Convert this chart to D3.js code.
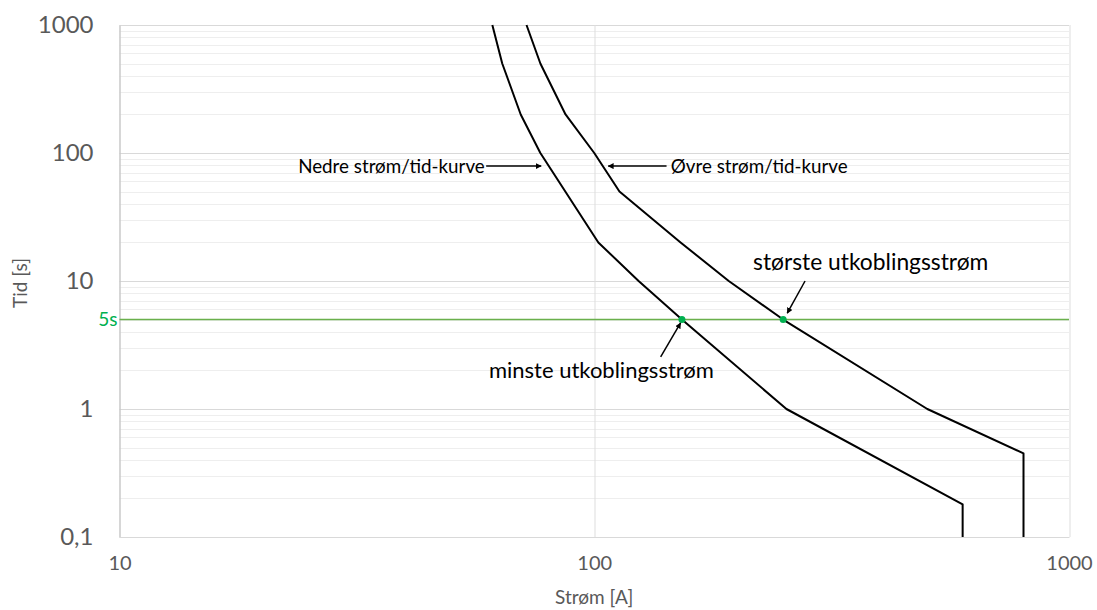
<!DOCTYPE html>
<head>
<meta charset="UTF-8">
<title>Strøm/tid-kurver</title>
<script src="https://d3js.org/d3.v7.min.js"></script>
<style>
  body { margin: 0; background: #fff; }
  .chart { font-family: Lato, "Open Sans", sans-serif; }
  .tick text { fill: #595959; }
  .note { fill: #000; }
</style>
</head>
<body>
<svg class="chart" width="1097" height="610"></svg>
<script>
// ---- data -------------------------------------------------------------
var lowerCurrent = [61, 64, 70, 77, 102, 124, 153, 254, 597, 597];
var lowerTime    = [1000, 500, 200, 100, 20, 10, 5, 1, 0.18, 0.1];

var upperCurrent = [72, 77, 87, 100, 113, 152, 192, 250, 503, 802, 802];
var upperTime    = [1000, 500, 200, 100, 50, 20, 10, 5, 1, 0.45, 0.1];

var xTicks = [10, 100, 1000];
var yTicks = [0.1, 1, 10, 100, 1000];
var yTickLabels = ["0,1", "1", "10", "100", "1000"];

var limitTime = 5;
var tripCurrents = [153, 250];   // minste / største utkoblingsstrøm

// ---- layout -----------------------------------------------------------
var chart = d3.select(".chart"),
    margin = {top: 25, right: 28, bottom: 73, left: 119.5},
    width = +chart.attr("width") - margin.left - margin.right,
    height = +chart.attr("height") - margin.top - margin.bottom;
var g = chart.append("g").attr("transform", "translate(" + margin.left + "," + margin.top + ")");

var x = d3.scaleLog().domain([10, 1000]).range([0, width]);
var y = d3.scaleLog().domain([0.1, 1000]).range([height, 0]);

// minor horizontal grid (2..9 of every decade)
var minor = [];
[0.1, 1, 10, 100].forEach(function (d) {
  for (var k = 2; k <= 9; k++) minor.push(d * k);
});

g.append("g").selectAll("line")
  .data(minor)
  .enter().append("line")
    .attr("x1", 0).attr("x2", width)
    .attr("y1", function (d) { return Math.round(y(d)) + 0.5; })
    .attr("y2", function (d) { return Math.round(y(d)) + 0.5; })
    .attr("stroke", "#eeeeee");

// major grid
g.append("g").selectAll("line")
  .data(yTicks)
  .enter().append("line")
    .attr("x1", 0).attr("x2", width)
    .attr("y1", function (d) { return Math.round(y(d)) + 0.5; })
    .attr("y2", function (d) { return Math.round(y(d)) + 0.5; })
    .attr("stroke", "#d9d9d9");

g.append("g").selectAll("line")
  .data(xTicks)
  .enter().append("line")
    .attr("y1", 0).attr("y2", height)
    .attr("x1", function (d) { return Math.round(x(d)) + 0.5; })
    .attr("x2", function (d) { return Math.round(x(d)) + 0.5; })
    .attr("stroke", "#dddddd");

// axes
var yAxis = g.append("g")
  .call(d3.axisLeft(y).tickValues(yTicks).tickSize(0).tickPadding(26)
    .tickFormat(function (d, i) { return yTickLabels[i]; }));
yAxis.select(".domain").attr("stroke", "#bfbfbf");
yAxis.selectAll("text").attr("font-size", 24).attr("font-family", "Lato, sans-serif");

var xAxis = g.append("g")
  .attr("transform", "translate(0," + height + ")")
  .call(d3.axisBottom(x).tickValues(xTicks).tickSize(0).tickPadding(19)
    .tickFormat(d3.format("d")));
xAxis.select(".domain").attr("stroke", "#d9d9d9");
xAxis.selectAll("text").attr("font-size", 20).attr("font-family", "Lato, sans-serif");

chart.append("text")
  .attr("transform", "translate(27," + (margin.top + y(10) + 2) + ") rotate(-90)")
  .attr("text-anchor", "middle")
  .attr("font-size", 19)
  .attr("fill", "#595959")
  .text("Tid [s]");

chart.append("text")
  .attr("x", margin.left + x(100))
  .attr("y", 604)
  .attr("text-anchor", "middle")
  .attr("font-size", 19)
  .attr("fill", "#595959")
  .text("Strøm [A]");

// 5 s line
g.append("line")
  .attr("x1", 0).attr("x2", width)
  .attr("y1", y(limitTime)).attr("y2", y(limitTime))
  .attr("stroke", "#6ab04c")
  .attr("stroke-width", 1.6);

chart.append("text")
  .attr("x", margin.left - 2)
  .attr("y", margin.top + y(limitTime))
  .attr("dy", "0.35em")
  .attr("text-anchor", "end")
  .attr("font-size", 19)
  .attr("fill", "#00b050")
  .text("5s");

// curves
var line = d3.line()
  .x(function (d) { return x(d[0]); })
  .y(function (d) { return y(d[1]); });

[[lowerCurrent, lowerTime], [upperCurrent, upperTime]].forEach(function (s) {
  g.append("path")
    .datum(d3.zip(s[0], s[1]))
    .attr("fill", "none")
    .attr("stroke", "#000")
    .attr("stroke-width", 2)
    .attr("stroke-linejoin", "round")
    .attr("d", line);
});

g.selectAll(".dot")
  .data(tripCurrents)
  .enter().append("circle")
    .attr("cx", function (d) { return x(d); })
    .attr("cy", y(limitTime))
    .attr("r", 3.5)
    .attr("fill", "#00b050");

// annotations
chart.append("defs").append("marker")
  .attr("id", "head")
  .attr("viewBox", "0 0 10 10")
  .attr("refX", 9).attr("refY", 5)
  .attr("markerWidth", 6).attr("markerHeight", 6)
  .attr("markerUnits", "userSpaceOnUse")
  .attr("orient", "auto")
  .append("path").attr("d", "M0,0L10,5L0,10Z").attr("fill", "#000");

var arrows = [
  {from: [59.2, 79], to: [77.3, 79]},
  {from: [142, 79], to: [107, 79]},
  {from: [278, 10], to: [255, 5.6]},
  {from: [138, 2.55], to: [152, 4.7]}
];

g.selectAll(".arrow")
  .data(arrows)
  .enter().append("line")
    .attr("x1", function (d) { return x(d.from[0]); })
    .attr("y1", function (d) { return y(d.from[1]); })
    .attr("x2", function (d) { return x(d.to[0]); })
    .attr("y2", function (d) { return y(d.to[1]); })
    .attr("stroke", "#000")
    .attr("stroke-width", 1.5)
    .attr("marker-end", "url(#head)");

var notes = [
  {text: "Nedre strøm/tid-kurve", at: [58.8, 79], anchor: "end", size: 18.8},
  {text: "Øvre strøm/tid-kurve", at: [145, 79], anchor: "start", size: 18.8},
  {text: "største utkoblingsstrøm", at: [216, 14.1], anchor: "start", size: 22.8},
  {text: "minste utkoblingsstrøm", at: [60, 2.0], anchor: "start", size: 22}
];

g.selectAll(".note")
  .data(notes)
  .enter().append("text")
    .attr("class", "note")
    .attr("x", function (d) { return x(d.at[0]); })
    .attr("y", function (d) { return y(d.at[1]); })
    .attr("dy", "0.35em")
    .attr("text-anchor", function (d) { return d.anchor; })
    .attr("font-size", function (d) { return d.size; })
    .text(function (d) { return d.text; });
</script>
</body>
</html>
